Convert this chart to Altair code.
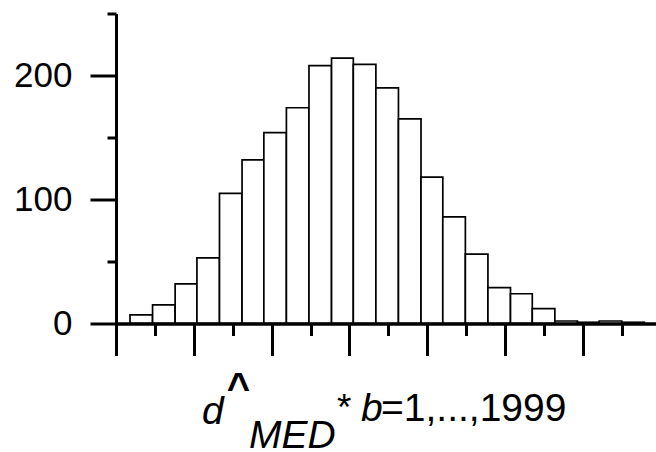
import altair as alt
import pandas as pd

# ---- data ----
bin_edges = [0.18, 0.47, 0.76, 1.04, 1.33, 1.62, 1.90, 2.19, 2.48, 2.77, 3.05, 3.34,
             3.63, 3.92, 4.20, 4.49, 4.78, 5.07, 5.35, 5.64, 5.93, 6.21, 6.50, 6.79]
counts = [7, 15, 32, 53, 105, 132, 154, 174, 208, 214, 209, 190, 165, 118, 86, 56,
          29, 24, 12, 2, 1, 2, 1]
x_major_ticks = [0, 1, 2, 3, 4, 5, 6]
x_minor_ticks = [0.5, 1.5, 2.5, 3.5, 4.5, 5.5, 6.5]
y_major_ticks = [0, 100, 200]
y_minor_ticks = [50, 150, 250]
label_parts = ["d", "^", "MED", "*", "b", "=1,...,1999"]

df = pd.DataFrame({"left": bin_edges[:-1], "right": bin_edges[1:], "count": counts})
one = pd.DataFrame({"k": [0]})

FONT = "Liberation Sans"
LEFT, TOP = 116, 13.5
W, H = 540, 310

xscale = alt.Scale(domain=[0, 6.94], nice=False, zero=False, padding=0)
yscale = alt.Scale(domain=[0, 250], nice=False, padding=0)


def xaxis(values, size):
    return alt.Axis(orient="bottom", values=values, tickSize=size, labels=False,
                    title=None, domainWidth=3, domainColor="black", tickWidth=3,
                    tickColor="black", grid=False, zindex=1)


def yaxis(values, size, labels):
    return alt.Axis(orient="left", values=values, tickSize=size, labels=labels,
                    title=None, domainWidth=3, domainColor="black", tickWidth=3,
                    tickColor="black", grid=False, zindex=1, labelFont=FONT,
                    labelFontSize=35, labelColor="black", labelPadding=18,
                    format="d")


minor = alt.Chart(df).mark_bar(opacity=0).encode(
    x=alt.X("left:Q", scale=xscale, axis=xaxis(x_minor_ticks, 12)),
    x2="right:Q",
    y=alt.Y("count:Q", scale=yscale, axis=yaxis(y_minor_ticks, 9, False)),
    y2=alt.datum(0),
)

bars = alt.Chart(df).mark_bar(fill="white", stroke="black", strokeWidth=1.7).encode(
    x=alt.X("left:Q", scale=xscale, axis=xaxis(x_major_ticks, 32)),
    x2="right:Q",
    y=alt.Y("count:Q", scale=yscale, axis=yaxis(y_major_ticks, 26, True)),
    y2=alt.datum(0),
)


def txt(s, x, y, size=39, style="normal", weight="normal", align="left"):
    return alt.Chart(one).mark_text(
        text=s, font=FONT, fontSize=size, fontStyle=style, fontWeight=weight,
        align=align, baseline="alphabetic", color="black"
    ).encode(x=alt.value(x - LEFT), y=alt.value(y - TOP))


texts = [
    txt(label_parts[0], 202, 424, style="italic"),
    txt(label_parts[1], 238.5, 401, size=40, weight="bold", align="center"),
    txt(label_parts[2], 249, 448, style="italic"),
    txt(label_parts[3], 337, 420, size=37),
    txt(label_parts[4], 361, 421, style="italic"),
    txt(label_parts[5], 381, 421),
]

chart = alt.layer(minor, bars, *texts).resolve_axis(
    x="independent", y="independent"
).properties(
    width=W, height=H,
    autosize=alt.AutoSizeParams(type="none"),
    padding={"left": LEFT, "top": TOP, "right": 0, "bottom": 452 - TOP - H},
).configure_view(stroke=None)

chart.save("out.html", embed_options={"renderer": "svg", "actions": False})
